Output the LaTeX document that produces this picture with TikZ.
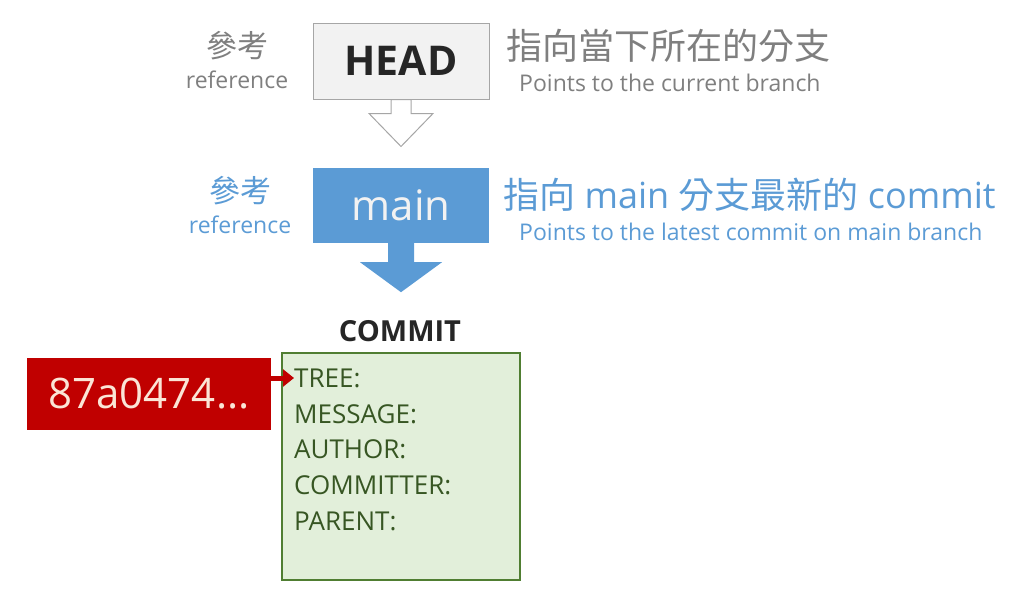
\documentclass[tikz,border=0pt]{standalone}
\usepackage{fontspec}
\setmainfont{Open Sans}
\newfontfamily\cjk{Noto Sans CJK TC}
\usetikzlibrary{positioning,arrows.meta}

\definecolor{refgray}{HTML}{7F7F7F}
\definecolor{boxgray}{HTML}{A6A6A6}
\definecolor{headfill}{HTML}{F2F2F2}
\definecolor{headtext}{HTML}{262626}
\definecolor{refblue}{HTML}{5B9BD5}
\definecolor{commitfill}{HTML}{E2EFDA}
\definecolor{commitdraw}{HTML}{507E32}
\definecolor{committext}{HTML}{375623}
\definecolor{hashred}{HTML}{C00000}
\definecolor{hashtext}{HTML}{FBE5D6}

\newcommand{\fsz}[1]{\fontsize{#1}{#1}\selectfont}

\begin{document}
\begin{tikzpicture}[x=1pt, y=-1pt]
    % Define styles
    \tikzstyle{headbox} = [rectangle, minimum width=176pt, minimum height=76pt, draw=boxgray, line width=1pt, fill=headfill, text=headtext, font=\bfseries\fsz{41}]
    \tikzstyle{mainbox} = [rectangle, minimum width=176pt, minimum height=75pt, fill=refblue, text=headfill, font=\fsz{42}]
    \tikzstyle{commitbox} = [rectangle, minimum width=238pt, minimum height=227pt, draw=commitdraw, line width=2pt, fill=commitfill]
    \tikzstyle{hashbox} = [rectangle, minimum width=244pt, minimum height=72pt, fill=hashred, text=hashtext, font=\fsz{42}]
    \tikzstyle{field} = [anchor=base west, inner sep=0pt, text=committext, font=\fsz{26}]
    \tikzstyle{refzh} = [inner sep=0pt, font=\cjk\fsz{31}]
    \tikzstyle{refen} = [inner sep=0pt, font=\fsz{23}]
    \tikzstyle{headarrow} = [draw=boxgray, line width=1pt, fill=white, line join=miter]
    \tikzstyle{redarrow} = [hashred, line width=5pt, -{Triangle[length=11pt, width=17pt]}]

    \useasboundingbox (0,0) rectangle (1024,608);

    % Nodes
    \node [headbox] (head) at (401,61) {HEAD};
    \node [mainbox] (main) at (401,205.5) {main};
    \node [commitbox] (commitbox) at (401,466.5) {};
    \node [hashbox] (hash) at (149,394) {87a0474...};

    \node [refzh, text=refgray] (headref) at (237,46) {參考};
    \node [refen, text=refgray, below=10pt of headref] (headrefen) {reference};
    \node [refzh, text=refgray, anchor=west, font=\cjk\fsz{36}] (headnote) at (506,46) {指向當下所在的分支};
    \node [refen, text=refgray, anchor=west] (headnoteen) at (519,83) {Points to the current branch};

    \node [refzh, text=refblue] (mainref) at (240,191) {參考};
    \node [refen, text=refblue, below=10pt of mainref] (mainrefen) {reference};
    \node [refzh, text=refblue, anchor=west, font=\fsz{36}] (mainnote) at (503,195) {{\cjk 指向} main {\cjk 分支最新的} commit};
    \node [refen, text=refblue, anchor=west] (mainnoteen) at (519,232) {Points to the latest commit on main branch};

    \node [inner sep=0pt, text=headtext, font=\bfseries\fsz{29}] (commitlabel) at (400,331) {COMMIT};
    \node [field] (tree) at (294,387) {TREE:};
    \node [field] (message) at (294,423) {MESSAGE:};
    \node [field] (author) at (294,458) {AUTHOR:};
    \node [field] (committer) at (294,494) {COMMITTER:};
    \node [field] (parent) at (294,530) {PARENT:};

    % Arrows
    \draw [headarrow] ([xshift=-10pt]head.south) -- ++(0,14) -- ++(-22,0) -- ++(32,33) -- ++(32,-33) -- ++(-22,0) -- ++(0,-14) -- cycle;
    \fill [refblue] ([xshift=-13pt]main.south) -- ++(0,19) -- ++(-28,0) -- ++(41,30) -- ++(41,-30) -- ++(-28,0) -- ++(0,-19) -- cycle;
    \coordinate (treein) at ([yshift=9pt]tree.base west);
    \draw [redarrow] (hash.east |- treein) -- (treein);
\end{tikzpicture}
\end{document}
